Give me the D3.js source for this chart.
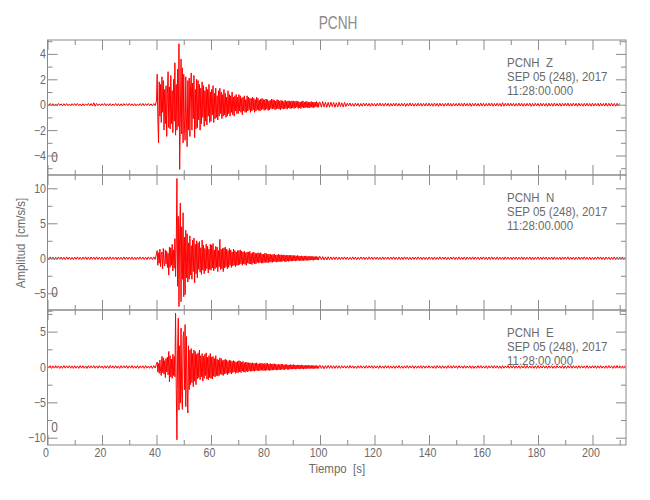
<!DOCTYPE html>
<html><head><meta charset="utf-8">
<script src="https://cdn.jsdelivr.net/npm/d3@7"></script>
<style>
body{margin:0;background:#fff}
text{font-family:"Liberation Sans",Arial,sans-serif;fill:#6a6a6a}
</style>
</head><body>
<svg id="chart" width="650" height="500"></svg>
<script>
// ---------------- data ----------------
const title = "PCNH";
const station = "PCNH";
const components = ["Z", "N", "E"];
const dateLine = "SEP 05 (248), 2017";
const timeLine = "11:28:00.000";
const markLabel = "0";
const xLabel = "Tiempo  [s]";
const yLabel = "Amplitud  [cm/s/s]";
const xMajorTicks = [0, 20, 40, 60, 80, 100, 120, 140, 160, 180, 200];
const xMinorTicks = [10, 30, 50, 70, 90, 110, 130, 150, 170, 190, 210];
const yMajorTicks = [[-4, -2, 0, 2, 4], [-5, 0, 5, 10], [-10, -5, 0, 5]];
const yMinorTicks = [[-5, -3, -1, 1, 3, 5], [-7.5, -2.5, 2.5, 7.5], [-7.5, -2.5, 2.5, 7.5]];
const yDomains = [[-5.535, 5.094], [-7.39, 11.9], [-11.03, 8.06]];

// sampling: pre-event 0-40 s every 0.5 s, event 40-100 s every 0.25 s, coda 100 s- every 0.5 s
const segStart = [0, 40, 100];
const segStep = [0.5, 0.25, 0.5];

const zPre = [
0.05,-0.08,0.1,-0.06,0.08,-0.1,0.06,-0.09,0.1,-0.05,0.07,-0.1,0.08,-0.07,0.09,-0.08,0.06,-0.1,0.08,-0.06,
0.09,-0.07,0.1,-0.08,0.06,-0.1,0.08,-0.09,0.07,-0.06,0.1,-0.08,0.09,-0.1,0.15,-0.12,0.1,-0.08,0.07,-0.09,
0.08,-0.06,0.1,-0.09,0.07,-0.08,0.09,-0.1,0.06,-0.07,0.1,-0.08,0.08,-0.09,0.07,-0.1,0.09,-0.06,0.08,-0.07,
0.1,-0.08,0.07,-0.09,0.08,-0.1,0.06,-0.08,0.09,-0.07,0.1,-0.09,0.08,-0.06,0.1,-0.08,0.07,-0.1,0.09,-0.08];
const zEvent = [
0.3,2.4,-1.2,-3.0,1.8,-0.9,1.6,-1.4,2.2,-0.6,1.9,-2.0,1.2,-1.5,1.5,-2.5,0.8,2.6,-1.8,1.4,
-1.9,2.3,-1.5,1.1,-2.2,2.0,-1.3,3.3,-2.4,1.6,-2.0,2.8,-1.7,4.8,-5.1,-1.2,3.6,-2.3,2.9,-3.0,
2.4,-1.6,-2.8,2.2,-1.5,-3.3,1.9,-2.0,2.1,-2.5,1.4,2.5,-2.0,1.7,-1.1,2.3,-2.6,1.2,-1.9,2.0,
-1.8,1.9,-1.2,1.6,-2.0,1.3,-1.5,1.8,-1.0,1.5,-1.7,1.1,-1.3,1.4,-1.6,1.2,-0.9,1.6,-1.4,1.0,
-1.3,1.2,-0.8,1.5,-1.4,0.9,-1.1,1.3,-1.0,0.7,-1.2,1.1,-0.9,1.3,-0.7,1.0,-1.1,0.8,-0.9,1.2,
-0.8,0.9,-1.0,0.6,-0.9,1.1,-0.7,0.8,-0.9,0.7,-0.6,1.0,-0.8,0.6,-0.9,0.7,-0.5,0.8,-0.7,0.6,
-0.7,0.8,-0.5,0.7,-0.6,0.5,-0.8,0.6,-0.5,0.7,-0.6,0.4,-0.6,0.7,-0.5,0.6,-0.4,0.5,-0.6,0.5,
-0.5,0.6,-0.4,0.5,-0.6,0.4,-0.5,0.6,-0.4,0.5,-0.45,0.35,-0.5,0.45,-0.4,0.5,-0.35,0.4,-0.45,0.4,
-0.4,0.45,-0.35,0.4,-0.45,0.3,-0.4,0.35,-0.3,0.45,-0.35,0.4,-0.3,0.35,-0.4,0.3,-0.35,0.4,-0.3,0.35,
-0.35,0.3,-0.4,0.35,-0.3,0.3,-0.35,0.25,-0.3,0.35,-0.3,0.25,-0.35,0.3,-0.25,0.3,-0.3,0.25,-0.3,0.3,
-0.25,0.3,-0.3,0.25,-0.25,0.3,-0.2,0.25,-0.3,0.25,-0.25,0.2,-0.3,0.25,-0.2,0.3,-0.25,0.2,-0.25,0.25,
-0.2,0.25,-0.25,0.2,-0.25,0.2,-0.2,0.25,-0.2,0.2,-0.25,0.2,-0.2,0.2,-0.15,0.25,-0.2,0.15,-0.2,0.2];
const zCoda = [
0.2,-0.2,0.25,-0.18,0.2,-0.2,0.18,-0.2,0.2,-0.15,0.18,-0.2,0.15,-0.18,0.2,-0.15,0.15,-0.18,0.18,-0.15,
0.12,-0.1,0.14,-0.12,0.1,-0.13,0.12,-0.1,0.11,-0.14,0.1,-0.12,0.13,-0.1,0.12,-0.11,0.1,-0.13,0.12,-0.1,
0.1,-0.12,0.11,-0.1,0.13,-0.11,0.1,-0.12,0.12,-0.1,0.11,-0.13,0.1,-0.11,0.12,-0.1,0.13,-0.12,0.1,-0.11,
0.11,-0.1,0.12,-0.13,0.1,-0.11,0.14,-0.1,0.11,-0.12,0.1,-0.11,0.12,-0.1,0.11,-0.12,0.1,-0.1,0.12,-0.11,
0.12,-0.11,0.1,-0.12,0.13,-0.1,0.11,-0.13,0.12,-0.1,0.1,-0.12,0.11,-0.1,0.13,-0.11,0.1,-0.12,0.11,-0.1,
0.1,-0.11,0.12,-0.1,0.11,-0.12,0.13,-0.1,0.1,-0.11,0.12,-0.13,0.11,-0.1,0.12,-0.11,0.1,-0.12,0.13,-0.1,
0.11,-0.12,0.1,-0.11,0.12,-0.1,0.13,-0.12,0.11,-0.1,0.12,-0.11,0.1,-0.13,0.16,-0.12,0.11,-0.1,0.12,-0.11,
0.12,-0.1,0.11,-0.12,0.1,-0.11,0.13,-0.1,0.12,-0.12,0.1,-0.11,0.11,-0.1,0.12,-0.13,0.1,-0.11,0.12,-0.1,
0.1,-0.12,0.12,-0.1,0.11,-0.11,0.1,-0.13,0.12,-0.1,0.11,-0.12,0.13,-0.1,0.1,-0.11,0.12,-0.12,0.11,-0.1,
0.11,-0.1,0.12,-0.12,0.1,-0.11,0.13,-0.1,0.11,-0.13,0.12,-0.1,0.1,-0.12,0.11,-0.1,0.12,-0.11,0.1,-0.12,
0.12,-0.11,0.1,-0.1,0.11,-0.12,0.12,-0.1,0.1,-0.11,0.13,-0.12,0.11,-0.1,0.12,-0.11,0.1,-0.12,0.11,-0.1,
0.1];

const nPre = [
0.15,-0.18,0.2,-0.15,0.17,-0.2,0.16,-0.17,0.19,-0.15,0.18,-0.2,0.15,-0.17,0.2,-0.16,0.17,-0.19,0.15,-0.18,
0.18,-0.16,0.2,-0.17,0.15,-0.19,0.17,-0.15,0.2,-0.18,0.16,-0.2,0.19,-0.15,0.17,-0.18,0.2,-0.16,0.15,-0.17,
0.17,-0.2,0.15,-0.18,0.19,-0.16,0.2,-0.17,0.16,-0.15,0.18,-0.2,0.17,-0.16,0.15,-0.19,0.2,-0.17,0.18,-0.15,
0.16,-0.17,0.19,-0.2,0.15,-0.18,0.17,-0.16,0.2,-0.15,0.18,-0.17,0.16,-0.2,0.19,-0.15,0.17,-0.18,0.2,-0.16];
const nEvent = [
0.6,1.1,-1.0,0.8,-0.7,1.3,-1.2,0.5,0.9,-1.5,1.4,-0.6,-1.1,1.2,-0.8,1.0,-1.3,0.7,-2.4,1.6,
-1.3,1.5,-1.0,2.0,-1.8,1.2,-1.4,2.8,-2.6,1.9,11.4,-4.0,6.0,-6.9,3.5,7.9,-6.2,4.5,-3.0,6.5,
-5.5,3.0,-5.2,4.0,-2.8,3.5,-3.4,2.2,-3.0,3.2,-2.4,1.8,-3.0,2.6,-1.9,2.9,-3.5,2.0,-2.2,2.5,
-2.8,2.2,-1.6,2.4,-2.0,1.5,-2.3,2.6,-1.7,1.9,-2.2,1.4,-1.8,2.0,-1.5,1.7,-2.1,1.3,-1.6,2.0,
-1.7,1.9,-1.4,2.1,-1.8,1.2,-1.5,1.7,-1.3,1.6,-1.9,1.1,-1.2,2.7,-1.6,1.3,-1.5,1.4,-1.9,1.5,
-1.4,1.6,-1.2,1.3,-1.5,1.1,-1.3,1.4,-1.0,1.2,-1.3,0.9,-1.1,1.3,-1.0,1.1,-1.2,0.9,-1.0,1.1,
-1.0,1.1,-0.9,1.2,-0.8,1.0,-1.0,0.9,-0.8,1.0,-0.9,0.8,-1.0,0.9,-0.7,0.9,-0.8,1.0,-0.8,0.7,
-0.9,0.8,-0.7,0.9,-0.8,0.7,-0.8,0.7,-0.6,0.8,-0.7,0.7,-0.6,0.8,-0.7,0.6,-0.7,0.6,-0.6,0.7,
-0.6,0.7,-0.6,0.55,-0.65,0.6,-0.5,0.6,-0.55,0.5,-0.6,0.55,-0.5,0.6,-0.5,0.45,-0.55,0.5,-0.5,0.55,
-0.5,0.5,-0.45,0.5,-0.5,0.45,-0.4,0.5,-0.45,0.4,-0.5,0.45,-0.4,0.45,-0.45,0.4,-0.4,0.45,-0.4,0.4,
-0.4,0.4,-0.35,0.4,-0.4,0.35,-0.35,0.4,-0.3,0.35,-0.35,0.3,-0.35,0.35,-0.3,0.3,-0.35,0.3,-0.3,0.35,
-0.3,0.3,-0.3,0.25,-0.3,0.3,-0.25,0.3,-0.25,0.25,-0.3,0.25,-0.25,0.25,-0.2,0.25,-0.25,0.2,-0.25,0.25];
const nCoda = [
0.25,-0.2,0.25,-0.25,0.2,-0.25,0.22,-0.2,0.2,-0.22,0.2,-0.18,0.2,-0.2,0.18,-0.2,0.18,-0.16,0.2,-0.18,
0.17,-0.19,0.15,-0.18,0.2,-0.16,0.17,-0.2,0.15,-0.17,0.19,-0.15,0.18,-0.2,0.16,-0.17,0.2,-0.15,0.17,-0.18,
0.19,-0.16,0.17,-0.2,0.15,-0.18,0.2,-0.17,0.16,-0.15,0.18,-0.19,0.17,-0.16,0.2,-0.18,0.15,-0.17,0.19,-0.2,
0.16,-0.18,0.2,-0.15,0.17,-0.19,0.15,-0.2,0.18,-0.16,0.17,-0.18,0.2,-0.15,0.16,-0.19,0.18,-0.17,0.15,-0.2,
0.18,-0.15,0.16,-0.2,0.19,-0.17,0.15,-0.18,0.2,-0.16,0.17,-0.15,0.19,-0.2,0.16,-0.18,0.17,-0.15,0.2,-0.19,
0.15,-0.17,0.2,-0.18,0.16,-0.15,0.19,-0.2,0.17,-0.16,0.15,-0.18,0.2,-0.17,0.18,-0.15,0.16,-0.2,0.17,-0.16,
0.2,-0.16,0.15,-0.19,0.18,-0.17,0.2,-0.15,0.16,-0.18,0.19,-0.2,0.15,-0.16,0.17,-0.19,0.2,-0.15,0.18,-0.17,
0.16,-0.2,0.19,-0.15,0.17,-0.18,0.15,-0.16,0.2,-0.19,0.18,-0.17,0.16,-0.15,0.19,-0.2,0.17,-0.18,0.15,-0.16,
0.19,-0.17,0.16,-0.18,0.2,-0.15,0.17,-0.2,0.15,-0.16,0.18,-0.19,0.2,-0.17,0.15,-0.18,0.16,-0.2,0.19,-0.15,
0.17,-0.15,0.2,-0.19,0.16,-0.17,0.18,-0.2,0.15,-0.16,0.19,-0.18,0.17,-0.15,0.2,-0.17,0.16,-0.19,0.18,-0.2,
0.15,-0.18,0.17,-0.16,0.2,-0.15,0.19,-0.17,0.16,-0.2,0.18,-0.15,0.17,-0.19,0.15,-0.16,0.2,-0.18,0.16,-0.17,
0.18,-0.16,0.2,-0.17,0.15];

const ePre = [
0.16,-0.15,0.18,-0.2,0.15,-0.17,0.19,-0.16,0.17,-0.2,0.15,-0.18,0.2,-0.16,0.17,-0.15,0.19,-0.18,0.16,-0.2,
0.18,-0.17,0.15,-0.19,0.2,-0.16,0.17,-0.18,0.15,-0.2,0.19,-0.16,0.17,-0.15,0.2,-0.18,0.16,-0.17,0.19,-0.15,
0.15,-0.2,0.18,-0.16,0.17,-0.19,0.2,-0.15,0.16,-0.18,0.19,-0.17,0.15,-0.2,0.18,-0.16,0.17,-0.15,0.2,-0.19,
0.17,-0.16,0.2,-0.18,0.15,-0.17,0.19,-0.2,0.16,-0.15,0.18,-0.19,0.2,-0.16,0.15,-0.18,0.17,-0.2,0.19,-0.16];
const eEvent = [
0.4,0.7,-0.7,0.5,-0.9,1.0,-0.6,-1.2,1.5,-0.8,1.3,-1.0,0.9,-1.5,1.2,-0.7,1.4,-1.1,2.2,-2.1,
1.6,-1.4,1.1,-1.6,1.8,-1.2,1.5,-1.4,7.6,-3.0,-10.3,2.5,6.9,-6.1,3.0,-5.1,5.5,-3.5,-6.0,4.2,
5.0,-3.2,6.0,-5.6,4.3,-2.8,-6.5,3.0,-3.2,2.4,-2.5,2.6,-2.2,1.9,-2.8,2.4,-2.0,2.2,-2.5,1.8,
-1.7,2.0,-1.5,2.4,-1.8,1.6,-1.4,1.9,-2.0,1.5,-1.6,1.8,-1.2,2.0,-1.7,1.4,-1.8,1.6,-1.5,1.9,
-1.6,1.4,-1.7,1.5,-1.3,1.2,-1.4,1.6,-1.2,1.1,-1.3,1.0,-1.2,1.3,-1.0,1.2,-1.1,0.9,-1.2,1.0,
-1.0,1.1,-0.9,1.0,-1.1,0.8,-0.9,1.0,-0.8,0.9,-1.0,0.8,-0.8,0.9,-0.7,0.8,-0.9,0.7,-0.8,0.8,
-0.8,0.9,-0.7,0.8,-0.8,0.7,-0.6,0.8,-0.7,0.6,-0.75,0.7,-0.6,0.65,-0.7,0.6,-0.55,0.6,-0.6,0.55,
-0.6,0.6,-0.55,0.5,-0.6,0.55,-0.5,0.6,-0.5,0.45,-0.55,0.5,-0.5,0.5,-0.45,0.55,-0.5,0.45,-0.5,0.5,
-0.5,0.5,-0.45,0.55,-0.45,0.4,-0.5,0.5,-0.45,0.4,-0.45,0.45,-0.4,0.45,-0.4,0.4,-0.45,0.35,-0.4,0.4,
-0.4,0.35,-0.4,0.4,-0.35,0.4,-0.35,0.3,-0.4,0.35,-0.3,0.35,-0.35,0.3,-0.35,0.3,-0.3,0.35,-0.3,0.3,
-0.3,0.35,-0.3,0.3,-0.3,0.25,-0.3,0.3,-0.25,0.3,-0.3,0.25,-0.25,0.3,-0.25,0.25,-0.3,0.2,-0.25,0.25,
-0.25,0.25,-0.2,0.25,-0.25,0.2,-0.2,0.25,-0.2,0.2,-0.25,0.2,-0.2,0.2,-0.2,0.2,-0.2,0.15,-0.2,0.2];
const eCoda = [
0.25,-0.2,0.2,-0.25,0.2,-0.2,0.22,-0.18,0.2,-0.2,0.18,-0.2,0.2,-0.18,0.18,-0.2,0.18,-0.15,0.18,-0.16,
0.16,-0.18,0.2,-0.15,0.17,-0.19,0.15,-0.2,0.18,-0.16,0.19,-0.17,0.15,-0.18,0.2,-0.16,0.17,-0.15,0.19,-0.2,
0.18,-0.15,0.16,-0.2,0.19,-0.17,0.15,-0.18,0.2,-0.16,0.17,-0.19,0.15,-0.17,0.18,-0.2,0.16,-0.15,0.2,-0.18,
0.15,-0.19,0.17,-0.16,0.2,-0.18,0.16,-0.15,0.19,-0.2,0.17,-0.18,0.15,-0.16,0.2,-0.19,0.18,-0.17,0.16,-0.15,
0.19,-0.16,0.15,-0.18,0.17,-0.2,0.2,-0.15,0.16,-0.19,0.18,-0.17,0.15,-0.2,0.19,-0.16,0.17,-0.18,0.2,-0.15,
0.17,-0.2,0.19,-0.15,0.16,-0.18,0.2,-0.17,0.15,-0.16,0.18,-0.19,0.17,-0.2,0.15,-0.18,0.19,-0.16,0.2,-0.17,
0.15,-0.17,0.18,-0.2,0.16,-0.15,0.19,-0.18,0.2,-0.16,0.17,-0.19,0.15,-0.2,0.18,-0.17,0.16,-0.15,0.2,-0.18,
0.18,-0.16,0.2,-0.19,0.15,-0.17,0.17,-0.2,0.16,-0.15,0.19,-0.18,0.2,-0.17,0.15,-0.16,0.18,-0.19,0.17,-0.2,
0.2,-0.18,0.16,-0.15,0.19,-0.17,0.15,-0.2,0.18,-0.16,0.17,-0.19,0.16,-0.18,0.2,-0.15,0.15,-0.17,0.19,-0.2,
0.16,-0.19,0.17,-0.15,0.2,-0.18,0.18,-0.16,0.15,-0.2,0.19,-0.17,0.17,-0.15,0.16,-0.18,0.2,-0.19,0.15,-0.16,
0.19,-0.15,0.18,-0.2,0.16,-0.17,0.2,-0.16,0.15,-0.19,0.17,-0.18,0.19,-0.15,0.16,-0.2,0.18,-0.17,0.2,-0.16,
0.17,-0.19,0.15,-0.18,0.2];

const traceSegments = [[zPre, zEvent, zCoda], [nPre, nEvent, nCoda], [ePre, eEvent, eCoda]];

// ---------------- layout ----------------
const svg = d3.select("#chart");
const left = 47.5, right = 626;
const panelTop = 40, panelH = 135;
const frameColor = "#8a8a8a";
const textColor = "#6a6a6a";
const narrow = 0.85;

const x = d3.scaleLinear().domain([0, 212.3]).range([left, right]);

function label(parent, px, py, str, size, anchor, sx, rot) {
  return parent.append("text")
    .attr("transform", `translate(${px},${py})` + (rot ? ` rotate(${rot})` : "") + ` scale(${sx},1)`)
    .attr("text-anchor", anchor || "start")
    .style("font-size", size + "px").style("white-space", "pre")
    .text(str);
}

label(svg, 338, 29, title, 19, "middle", 0.72).style("fill", "#8c8c8c");

traceSegments.forEach((segs, i) => {
  const top = panelTop + i * panelH, bottom = top + panelH;
  const y = d3.scaleLinear().domain(yDomains[i]).range([bottom, top]);
  const g = svg.append("g");

  const pts = segs.flatMap((vals, s) => vals.map((v, k) => [segStart[s] + k * segStep[s], v]));

  const clipId = "clip" + i;
  svg.append("clipPath").attr("id", clipId).append("rect")
    .attr("x", left).attr("y", top).attr("width", right - left).attr("height", panelH);

  const line = d3.line().x(d => x(d[0])).y(d => y(d[1]));
  g.append("path").datum(pts).attr("d", line).attr("clip-path", `url(#${clipId})`)
    .attr("fill", "none").attr("stroke", "#ff0000").attr("stroke-width", 1)
    .attr("stroke-linejoin", "round");

  const styleAxis = sel => {
    sel.select(".domain").remove();
    sel.selectAll(".tick line").attr("stroke", frameColor);
    sel.selectAll(".tick text").style("font-size", "12.5px").style("fill", textColor)
      .style("font-family", '"Liberation Sans",Arial,sans-serif');
  };
  const fmt = d => (d < 0 ? "\u2212" + Math.abs(d) : String(d));

  const yAx = g.append("g").attr("transform", `translate(${left},0)`)
    .call(d3.axisLeft(y).tickValues(yMajorTicks[i]).tickSizeInner(-10).tickSizeOuter(0).tickPadding(1.5).tickFormat(fmt))
    .call(styleAxis);
  yAx.selectAll(".tick text").each(function () {
    const tx = +this.getAttribute("x");
    d3.select(this).attr("x", 0).attr("transform", `translate(${tx},0) scale(${narrow},1)`);
  });
  g.append("g").attr("transform", `translate(${left},0)`)
    .call(d3.axisLeft(y).tickValues(yMinorTicks[i]).tickSizeInner(-5).tickSizeOuter(0).tickFormat(""))
    .call(styleAxis);
  g.append("g").attr("transform", `translate(${right},0)`)
    .call(d3.axisRight(y).tickValues(yMajorTicks[i]).tickSizeInner(-10).tickSizeOuter(0).tickFormat(""))
    .call(styleAxis);
  g.append("g").attr("transform", `translate(${right},0)`)
    .call(d3.axisRight(y).tickValues(yMinorTicks[i]).tickSizeInner(-5).tickSizeOuter(0).tickFormat(""))
    .call(styleAxis);

  g.append("g").attr("transform", `translate(0,${top})`)
    .call(d3.axisTop(x).tickValues(xMajorTicks).tickSizeInner(-10).tickSizeOuter(0).tickFormat(""))
    .call(styleAxis);
  g.append("g").attr("transform", `translate(0,${top})`)
    .call(d3.axisTop(x).tickValues(xMinorTicks).tickSizeInner(-5).tickSizeOuter(0).tickFormat(""))
    .call(styleAxis);
  const bAx = g.append("g").attr("transform", `translate(0,${bottom})`)
    .call(d3.axisBottom(x).tickValues(xMajorTicks).tickSizeInner(-10).tickSizeOuter(0).tickPadding(3)
      .tickFormat(i === 2 ? d3.format("d") : ""))
    .call(styleAxis);
  bAx.selectAll(".tick text").attr("transform", `translate(-2,0) scale(${narrow},1)`);
  g.append("g").attr("transform", `translate(0,${bottom})`)
    .call(d3.axisBottom(x).tickValues(xMinorTicks).tickSizeInner(-5).tickSizeOuter(0).tickFormat(""))
    .call(styleAxis);

  g.append("rect").attr("x", left).attr("y", top).attr("width", right - left).attr("height", panelH)
    .attr("fill", "none").attr("stroke", frameColor).attr("stroke-width", 1);

  // annotations
  label(g, 507, top + 26.5, station, 13.5, "start", narrow);
  label(g, 546, top + 26.5, components[i], 13.5, "start", narrow);
  label(g, 507, top + 40.5, dateLine, 13.5, "start", narrow);
  label(g, 507, top + 54.5, timeLine, 13.5, "start", narrow);

  label(g, 54.5, bottom - 13, markLabel, 14, "middle", narrow);
});

label(svg, 337, 473, xLabel, 13.5, "middle", narrow);
label(svg, 25, 243, yLabel, 13.5, "middle", narrow, -90);
</script>
</body></html>
